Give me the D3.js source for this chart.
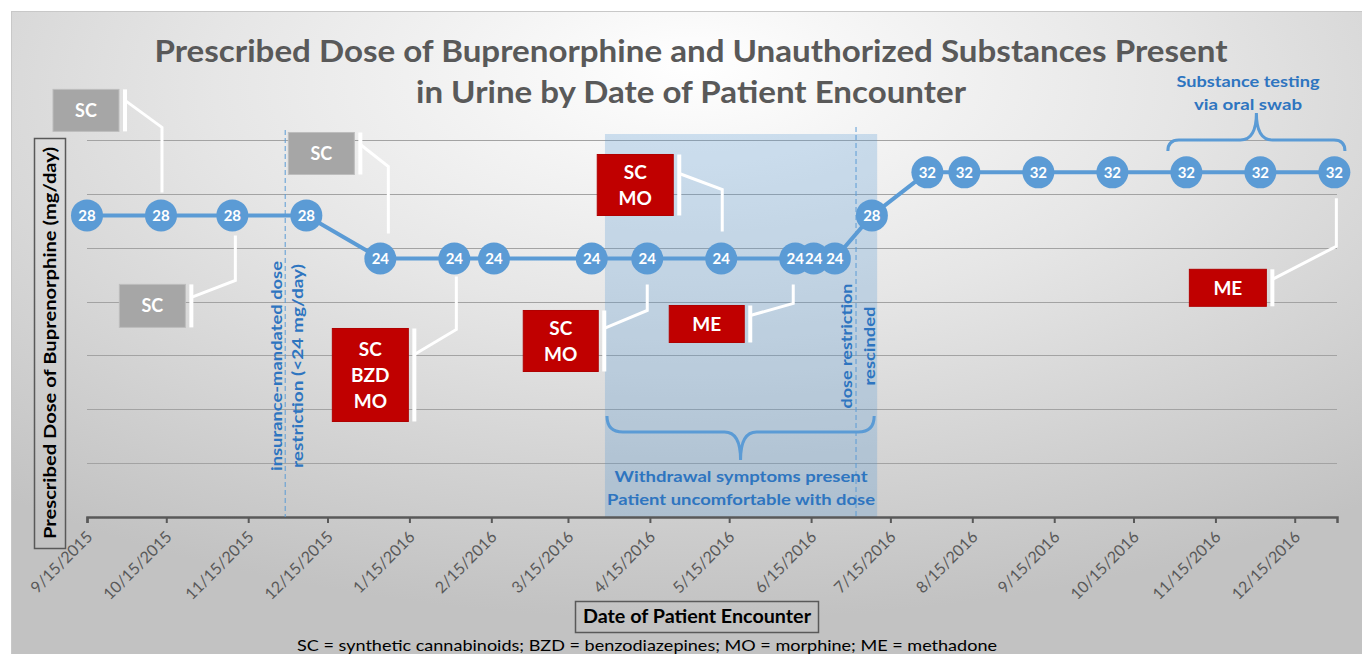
<!DOCTYPE html>
<html><head><meta charset="utf-8">
<script src="https://cdn.jsdelivr.net/npm/d3@7"></script>
<style>
html,body{margin:0;padding:0;background:#fff;}
svg{display:block;font-family:Lato,"Open Sans",sans-serif;}
</style></head><body>
<svg id="chart" width="1362" height="654"></svg>
<script>
// ---------------- DATA ----------------
const encounterDates = ["2015-09-15","2015-10-13","2015-11-09","2015-12-07","2016-01-04","2016-02-01","2016-02-16","2016-03-24","2016-04-14","2016-05-12","2016-06-09","2016-06-16","2016-06-24","2016-07-08","2016-07-29","2016-08-12","2016-09-09","2016-10-07","2016-11-04","2016-12-02","2016-12-30"];
const doses = [28,28,28,28,24,24,24,24,24,24,24,24,24,28,32,32,32,32,32,32,32];
const tickLabels = ["9/15/2015","10/15/2015","11/15/2015","12/15/2015","1/15/2016","2/15/2016","3/15/2016","4/15/2016","5/15/2016","6/15/2016","7/15/2016","8/15/2016","9/15/2016","10/15/2016","11/15/2016","12/15/2016"];
const yGridValues = [0,5,10,15,20,25,30,35];
const titleLines = ["Prescribed Dose of Buprenorphine and Unauthorized Substances Present","in Urine by Date of Patient Encounter"];
const yAxisTitle = "Prescribed Dose of Buprenorphine (mg/day)";
const xAxisTitle = "Date of Patient Encounter";
const footnote = "SC = synthetic cannabinoids; BZD = benzodiazepines; MO = morphine; ME = methadone";
const substancePointIndex = [1,2,4,5,9,8,10,20];
const substanceLabels = [["SC"],["SC"],["SC"],["SC","BZD","MO"],["SC","MO"],["SC","MO"],["ME"],["ME"]];
const substanceKinds = ["prior","prior","prior","flag","flag","flag","flag","flag"];
const eventDates = ["2015-11-29","2016-07-02"];
const eventLines = [["insurance-mandated dose","restriction (<24 mg/day)"],["dose restriction","rescinded"]];
const withdrawalPeriod = ["2016-03-29","2016-07-10"];
const withdrawalLines = ["Withdrawal symptoms present","Patient uncomfortable with dose"];
const oralSwabPeriod = ["2016-10-28","2017-01-03"];
const oralSwabLines = ["Substance testing","via oral swab"];

// ---------------- LAYOUT ----------------
const W = 1362, H = 654;
const plot = {left: 87, right: 1337, top: 140, bottom: 517};
const parse = d3.timeParse("%Y-%m-%d");
const parseTick = d3.timeParse("%m/%d/%Y");
const x = d3.scaleTime().domain([parse("2015-09-15"), parse("2016-12-31")]).range([plot.left, plot.right]);
const y = d3.scaleLinear().domain([0, 35]).range([plot.bottom, plot.top]);
const blue = "#5b9bd5", textBlue = "#2e75c0", grey = "#595959";

// callout box placement relative to the point: [dx, dy, w, h], leader: [startDy, elbowDx, elbowDy, endDy]
const calloutBox = [[-108,-126,66,42],[-113,69,66,43],[-92,-126,66,42],[-122,70,76,93],[-124,-104,76,61],[-124,52,75,61],[-126,47,75,37],[-145,97,77,37]];
const calloutLead = [[-115,1,-88,-23],[82,3,65,20],[-114,8,-92,-25],[96,2,71,18],[-85,1,-69,-27],[70,0,52,26],[57,-2,45,26],[107,2,74,26]];

const svg = d3.select("#chart");
const defs = svg.append("defs");
const grad = defs.append("radialGradient").attr("id","bg").attr("cx","50%").attr("cy","15%").attr("r","78%").attr("fx","50%").attr("fy","8%");
grad.append("stop").attr("offset","0%").attr("stop-color","#ffffff");
grad.append("stop").attr("offset","45%").attr("stop-color","#e6e6e6");
grad.append("stop").attr("offset","100%").attr("stop-color","#c2c2c2");

svg.append("rect").attr("width",W).attr("height",H).attr("fill","#fff");
svg.append("rect").attr("x",11.5).attr("y",11.5).attr("width",W).attr("height",H)
  .attr("fill","url(#bg)").attr("stroke","#c8c8c8");

function fit(sel, len){ sel.attr("textLength",len).attr("lengthAdjust","spacingAndGlyphs"); }

// title
titleLines.forEach((t,i)=>{
  const el = svg.append("text").attr("x",691).attr("y",[62,103][i]).attr("text-anchor","middle")
    .attr("font-size",31).attr("font-weight","bold").attr("fill",grey).text(t);
  fit(el,[1073,550][i]);
});

// gridlines
svg.append("g").selectAll("line").data(yGridValues.filter(v=>v>0)).join("line")
  .attr("x1",plot.left).attr("x2",plot.right).attr("y1",d=>Math.round(y(d))+0.5).attr("y2",d=>Math.round(y(d))+0.5)
  .attr("stroke","#a3a3a3").attr("stroke-width",1);

// withdrawal shaded region
const wx0 = x(parse(withdrawalPeriod[0])), wx1 = x(parse(withdrawalPeriod[1]));
svg.append("rect").attr("x",wx0).attr("y",134).attr("width",wx1-wx0).attr("height",plot.bottom-134)
  .attr("fill","rgba(91,155,213,0.28)");

// x axis
const tickDates = tickLabels.map(parseTick);
const xAxis = d3.axisBottom(x).tickValues(tickDates).tickSize(6).tickFormat((d,i)=>tickLabels[i]);
const gx = svg.append("g").attr("transform",`translate(0,${plot.bottom})`).call(xAxis);
gx.select(".domain").attr("stroke",grey).attr("stroke-width",2.5);
gx.selectAll(".tick line").attr("stroke",grey).attr("stroke-width",2);
gx.selectAll(".tick text").attr("font-size",16).attr("fill",grey).attr("font-family","Lato, sans-serif")
  .attr("text-anchor","end").attr("y",0).attr("dy",0)
  .attr("transform","translate(6,21) rotate(-45)");

// event dashed lines
eventDates.forEach((d,i)=>{
  const ex = x(parse(d));
  svg.append("line").attr("x1",ex).attr("x2",ex).attr("y1",[130,127][i]).attr("y2",plot.bottom)
    .attr("stroke",blue).attr("stroke-width",1).attr("stroke-dasharray","5,3");
  const offs = [[-3,18],[-4,19]][i];
  const cy = [366,346][i];
  const lens = [[210,204],[125,79]][i];
  eventLines[i].forEach((t,j)=>{
    const el = svg.append("text").attr("transform",`translate(${ex+offs[j]},${cy}) rotate(-90)`)
      .attr("text-anchor","middle").attr("font-size",16).attr("font-weight","bold").attr("fill",textBlue).text(t);
    fit(el,lens[j]);
  });
});

// withdrawal brace & text
function hBrace(x0,x1,yEnd,yMid,yTip){
  const xm=(x0+x1)/2, r=Math.abs(yMid-yEnd);
  return `M${x0},${yEnd} Q${x0},${yMid} ${x0+r},${yMid} L${xm-16},${yMid} Q${xm},${yMid} ${xm},${yTip} Q${xm},${yMid} ${xm+16},${yMid} L${x1-r},${yMid} Q${x1},${yMid} ${x1},${yEnd}`;
}
svg.append("path").attr("d",hBrace(wx0+2,wx1-3,416,432,460)).attr("fill","none").attr("stroke",blue).attr("stroke-width",3);
withdrawalLines.forEach((t,i)=>{
  const el = svg.append("text").attr("x",(wx0+wx1)/2).attr("y",[482,505][i]).attr("text-anchor","middle")
    .attr("font-size",16).attr("font-weight","bold").attr("fill",textBlue).text(t);
  fit(el,[253,268][i]);
});

// oral swab brace & text
const ox0 = x(parse(oralSwabPeriod[0])), ox1 = x(parse(oralSwabPeriod[1]));
svg.append("path").attr("d",hBrace(ox0,ox1,151,140,113)).attr("fill","none").attr("stroke",blue).attr("stroke-width",3);
oralSwabLines.forEach((t,i)=>{
  const el = svg.append("text").attr("x",1248).attr("y",[87,110][i]).attr("text-anchor","middle")
    .attr("font-size",16).attr("font-weight","bold").attr("fill",textBlue).text(t);
  fit(el,[143,108][i]);
});

// data
const data = encounterDates.map((d,i)=>({date:parse(d), dose:doses[i]}));

// callouts
substancePointIndex.forEach((pi,k)=>{
  const px = x(data[pi].date), py = y(data[pi].dose);
  const [dx,dy,w,h] = calloutBox[k];
  const [sdy,edx,edy,endy] = calloutLead[k];
  const bx = px+dx, by = py+dy, right = bx+w;
  const g = svg.append("g");
  g.append("polyline").attr("points",`${right+6},${py+sdy} ${px+edx},${py+edy} ${px+edx},${py+endy}`)
    .attr("fill","none").attr("stroke","#fff").attr("stroke-width",3);
  g.append("rect").attr("x",right+4).attr("y",by).attr("width",4).attr("height",h).attr("fill","#fff");
  const prior = substanceKinds[k]==="prior";
  g.append("rect").attr("x",bx).attr("y",by).attr("width",w).attr("height",h)
    .attr("fill",prior?"#a6a6a6":"#c00000").attr("stroke",prior?"#bdbdbd":"#b00000").attr("stroke-width",1);
  const lines = substanceLabels[k], lh = 26;
  lines.forEach((t,j)=>{
    g.append("text").attr("x",bx+w/2).attr("y",by+h/2+(j-(lines.length-1)/2)*lh).attr("dy","0.36em")
      .attr("text-anchor","middle").attr("font-size",prior?18:19).attr("font-weight","bold").attr("fill","#fff").text(t);
  });
});

// line + markers
svg.append("path").datum(data).attr("d",d3.line().x(d=>x(d.date)).y(d=>y(d.dose)))
  .attr("fill","none").attr("stroke",blue).attr("stroke-width",4);
svg.append("g").selectAll("circle").data(data).join("circle")
  .attr("cx",d=>x(d.date)).attr("cy",d=>y(d.dose)).attr("r",16).attr("fill",blue);
svg.append("g").selectAll("text").data(data).join("text")
  .attr("x",d=>x(d.date)).attr("y",d=>y(d.dose)).attr("dy","0.36em").attr("text-anchor","middle")
  .attr("font-size",15).attr("font-weight","bold").attr("fill","#fff").text(d=>d.dose);

// y axis title box
svg.append("rect").attr("x",34.5).attr("y",138.5).attr("width",31).attr("height",410)
  .attr("fill","none").attr("stroke",grey).attr("stroke-width",1.5);
fit(svg.append("text").attr("transform","translate(50,343) rotate(-90)").attr("text-anchor","middle").attr("dy","0.36em")
  .attr("font-size",17).attr("font-weight","bold").attr("fill","#000").text(yAxisTitle), 392);

// x axis title box
svg.append("rect").attr("x",575.5).attr("y",601.5).attr("width",243).attr("height",31)
  .attr("fill","none").attr("stroke",grey).attr("stroke-width",1.5);
fit(svg.append("text").attr("x",697).attr("y",617).attr("dy","0.36em").attr("text-anchor","middle")
  .attr("font-size",18).attr("font-weight","bold").attr("fill","#000").text(xAxisTitle), 228);

// footnote
fit(svg.append("text").attr("x",647).attr("y",651).attr("text-anchor","middle")
  .attr("font-size",16).attr("fill","#000").text(footnote), 700);
</script>
</body></html>
